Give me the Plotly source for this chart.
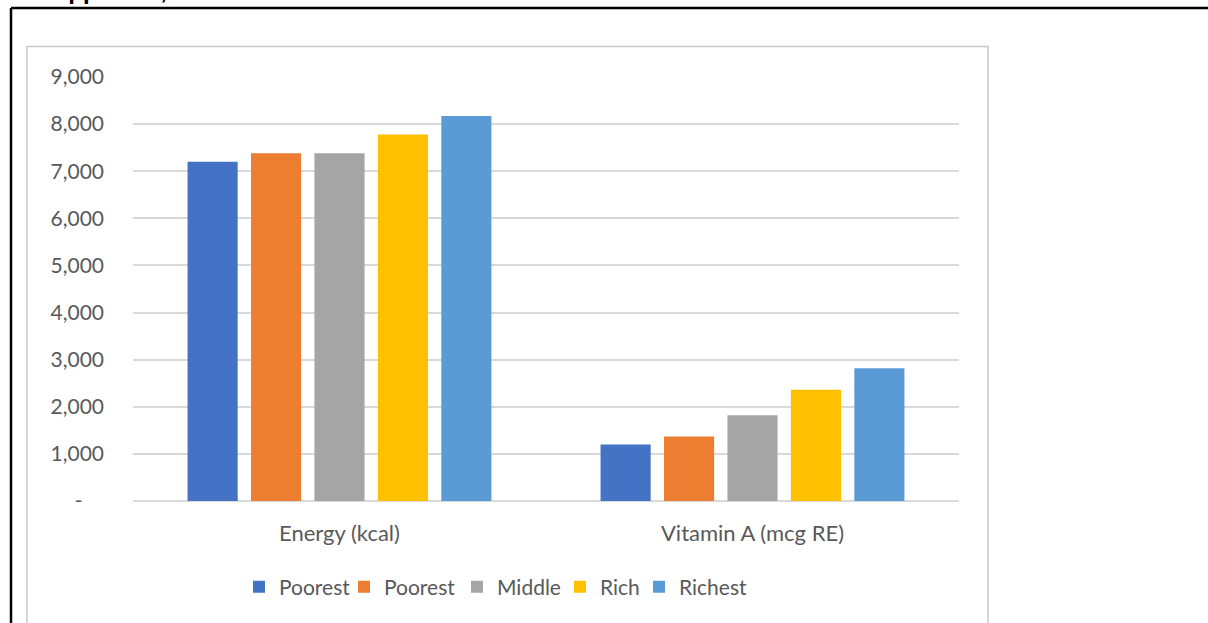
import plotly.graph_objects as go

categories = ["Energy (kcal)", "Vitamin A (mcg RE)"]
series_names = ["Poorest", "Poorest", "Middle", "Rich", "Richest"]
poorest1 = [7200, 1200]
poorest2 = [7380, 1370]
middle = [7380, 1820]
rich = [7780, 2360]
richest = [8170, 2820]
series_values = [poorest1, poorest2, middle, rich, richest]
colors = ["#4472C4", "#ED7D31", "#A5A5A5", "#FFC000", "#5B9BD5"]
y_tickvals = [0, 1000, 2000, 3000, 4000, 5000, 6000, 7000, 8000, 9000]
y_ticktext = ["-\u00a0\u00a0\u00a0\u00a0", "1,000", "2,000", "3,000", "4,000", "5,000",
              "6,000", "7,000", "8,000", "9,000"]

W, H = 1208, 623
L, R, T, B = 133, 249, 77, 122
PW, PH = W - L - R, H - T - B

def px(x):
    return (x - L) / PW

def py(y):
    return (H - B - y) / PH

FONT = "Lato"
TXT = "#595959"

fig = go.Figure()
legend_px = [253, 358, 471, 574, 653]
for i, (name, vals, col) in enumerate(zip(series_names, series_values, colors)):
    lg = "legend" if i == 0 else f"legend{i+1}"
    fig.add_trace(go.Bar(x=categories, y=vals, name=name, marker_color=col,
                         marker_line_width=0, legend=lg))

legend_common = dict(orientation="h", font=dict(family=FONT, size=21, color=TXT),
                     bgcolor="rgba(0,0,0,0)", borderwidth=0, itemwidth=30,
                     yanchor="middle", xanchor="left", y=py(587))
layout_legends = {}
for i, lx in enumerate(legend_px):
    key = "legend" if i == 0 else f"legend{i+1}"
    layout_legends[key] = dict(legend_common, x=px(lx - 14))

fig.update_layout(
    width=W, height=H,
    margin=dict(l=L, r=R, t=T, b=B, autoexpand=False),
    paper_bgcolor="white", plot_bgcolor="white",
    barmode="group", bargap=0.232, bargroupgap=0.21,
    showlegend=True,
    font=dict(family=FONT, size=20, color=TXT),
    xaxis=dict(showgrid=False, showline=False, zeroline=False, ticks="",
               ticklabelstandoff=17, tickfont=dict(family=FONT, size=22, color=TXT)),
    yaxis=dict(range=[0, 9000], tickvals=y_tickvals, ticktext=y_ticktext,
               showgrid=True, gridcolor="#d9d9d9", gridwidth=2,
               zeroline=True, zerolinecolor="#d9d9d9", zerolinewidth=2,
               showline=False, ticks="", ticklabelstandoff=28,
               tickfont=dict(family=FONT, size=21, color=TXT)),
    **layout_legends,
)

# chart area border (light gray) and page border (black)
fig.add_shape(type="rect", xref="paper", yref="paper",
              x0=px(27), x1=px(988), y0=py(700), y1=py(46.5),
              line=dict(color="#c9c9c9", width=1.5), fillcolor="rgba(0,0,0,0)", layer="below")
fig.add_shape(type="line", xref="paper", yref="paper",
              x0=px(11), x1=px(1215), y0=py(8), y1=py(8),
              line=dict(color="black", width=2.5))
fig.add_shape(type="line", xref="paper", yref="paper",
              x0=px(11), x1=px(11), y0=py(8), y1=py(700),
              line=dict(color="black", width=2.5))

fig.add_annotation(text="<b>Appendix,</b>", xref="paper", yref="paper",
                   x=px(49), y=py(6), xanchor="left", yanchor="bottom",
                   showarrow=False, font=dict(family="Liberation Sans", size=24, color="black"))

fig.write_html("out.html", config={"displayModeBar": False},
               post_script="document.body.style.margin='0';")
